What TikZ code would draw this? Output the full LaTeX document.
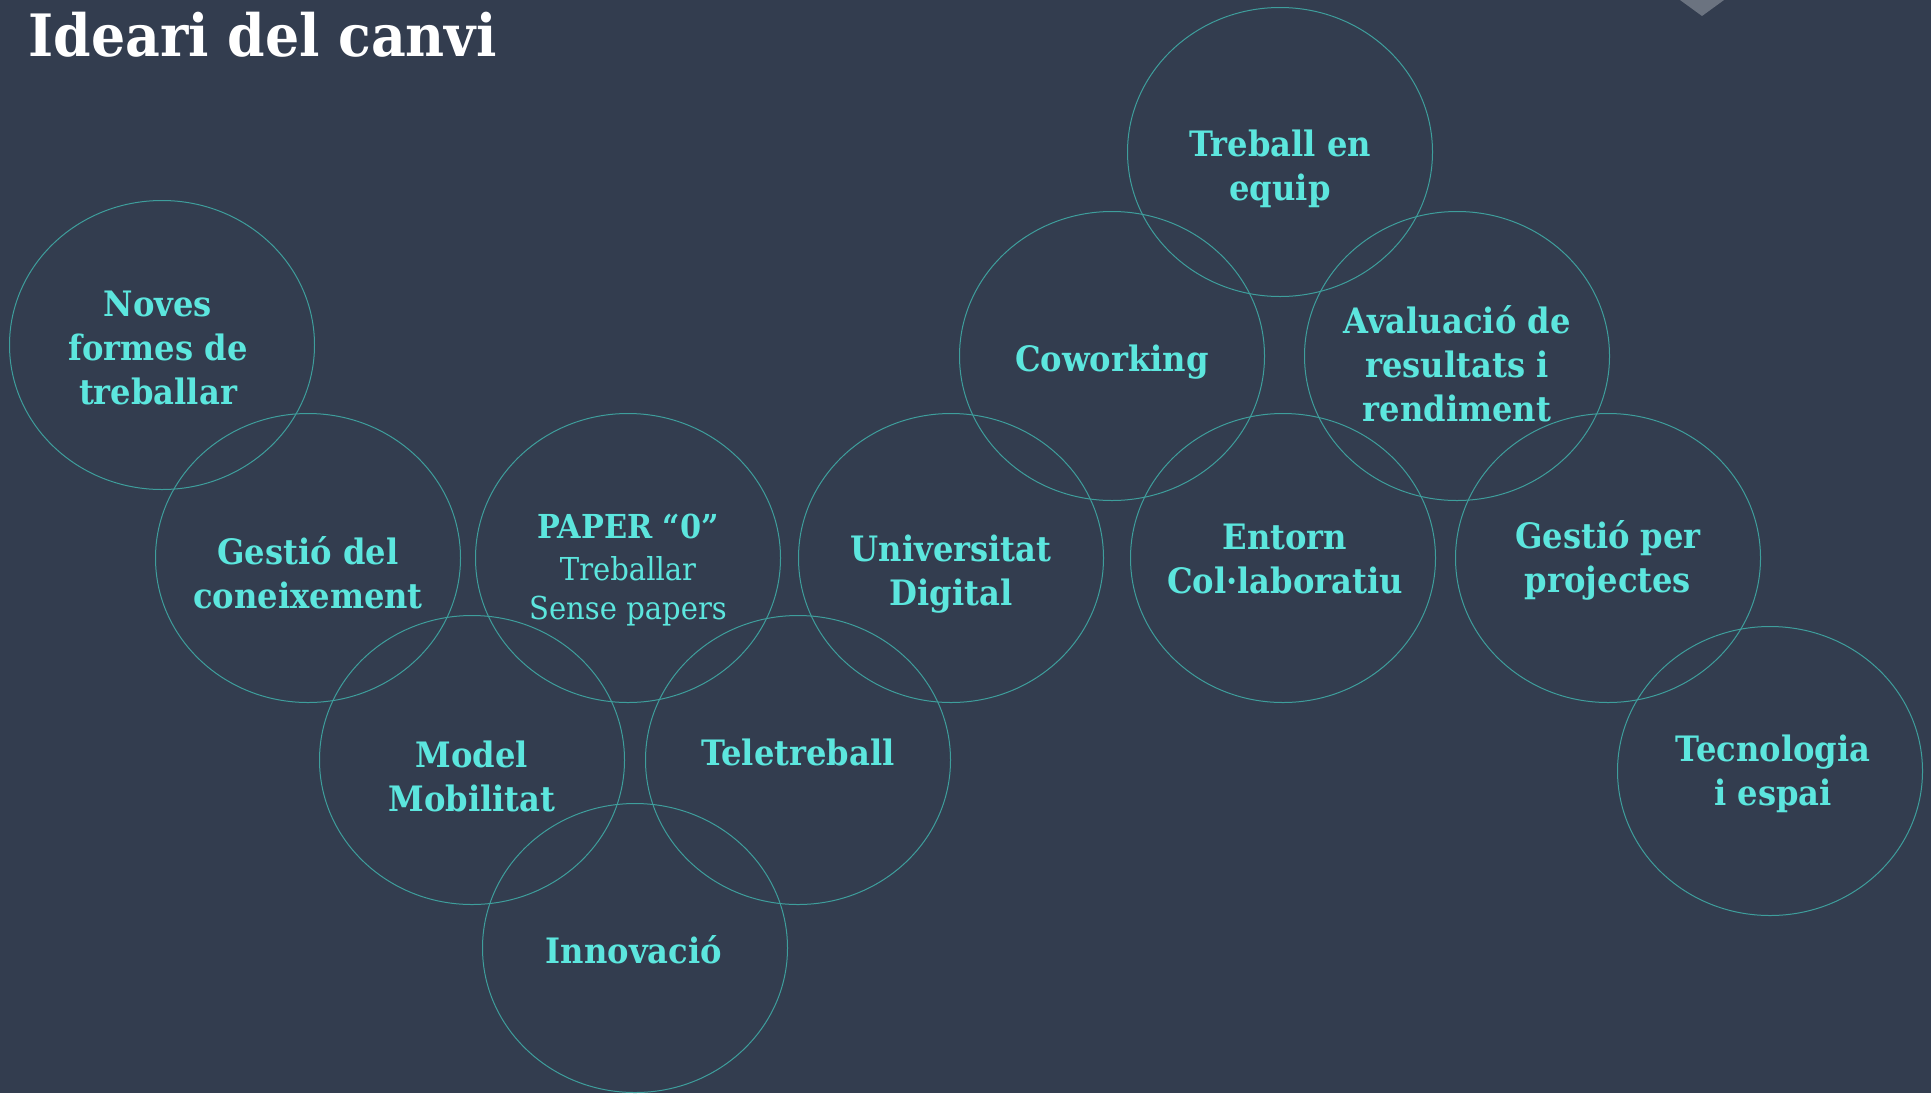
\documentclass[tikz,border=0pt]{standalone}
\usepackage{fontspec}
\setmainfont{DejaVu Serif}[FakeStretch=0.92]
\usetikzlibrary{shapes.geometric}
\definecolor{fons}{HTML}{333D4F}
\definecolor{anell}{HTML}{3E9E9C}
\definecolor{turquesa}{HTML}{5CE6DE}
\definecolor{gris}{HTML}{6B7380}
\begin{document}
\begin{tikzpicture}[x=0.5pt,y=-0.5pt,
  ring/.style={draw=anell,line width=0.5pt,ellipse,minimum width=152.5pt,minimum height=144.5pt,inner sep=0pt},
  idea/.style={text=turquesa,font=\bfseries\fontsize{17.5}{22}\selectfont,align=center,inner sep=0pt}]
\fill[fons] (0,0) rectangle (1931,1093);
\useasboundingbox (0,0) rectangle (1931,1093);
\fill[gris] (1680,0)--(1702,16)--(1724,0)--cycle;
\node[anchor=base west,inner sep=0pt,text=white,font=\bfseries\fontsize{29.2}{30}\selectfont] (titol) at (28,56) {Ideari del canvi};
% cercles
\node[ring] (c-noves) at (162,345) {};
\node[ring] (c-coneix) at (308,558) {};
\node[ring] (c-paper) at (628,558) {};
\node[ring] (c-univ) at (951,558) {};
\node[ring] (c-model) at (472,760) {};
\node[ring] (c-tele) at (798,760) {};
\node[ring] (c-innov) at (635,948) {};
\node[ring] (c-equip) at (1280,152) {};
\node[ring] (c-cowork) at (1112,356) {};
\node[ring] (c-aval) at (1457,356) {};
\node[ring] (c-entorn) at (1283,558) {};
\node[ring] (c-projec) at (1608,558) {};
\node[ring] (c-tecno) at (1770,771) {};
% textos
\node[idea] (noves) at (158,348) {Noves\\formes de\\treballar};
\node[idea] (coneix) at (308,573) {Gestió del\\coneixement};
\node[idea] (paper) at (628,570) {{\fontsize{16.5}{21}\selectfont PAPER “0”}\\[-1pt]
  {\mdseries\fontsize{15.8}{18.5}\selectfont Treballar}\\[-2.5pt]
  {\mdseries\fontsize{15.8}{18.5}\selectfont Sense papers}};
\node[idea] (univ) at (951,574) {Universitat\\Digital};
\node[idea] (model) at (472,776) {Model\\Mobilitat};
\node[idea] (tele) at (798,752) {Teletreball};
\node[idea] (innov) at (634,950) {Innovació};
\node[idea] (equip) at (1280,169) {Treball en\\equip};
\node[idea] (cowork) at (1112,362) {Coworking};
\node[idea] (aval) at (1457,364) {Avaluació de\\resultats i\\rendiment};
\node[idea] (entorn) at (1285,559) {Entorn\\Col·laboratiu};
\node[idea] (projec) at (1608,560) {Gestió per\\projectes};
\node[idea] (tecno) at (1773,774) {Tecnologia\\i espai};
\end{tikzpicture}
\end{document}
